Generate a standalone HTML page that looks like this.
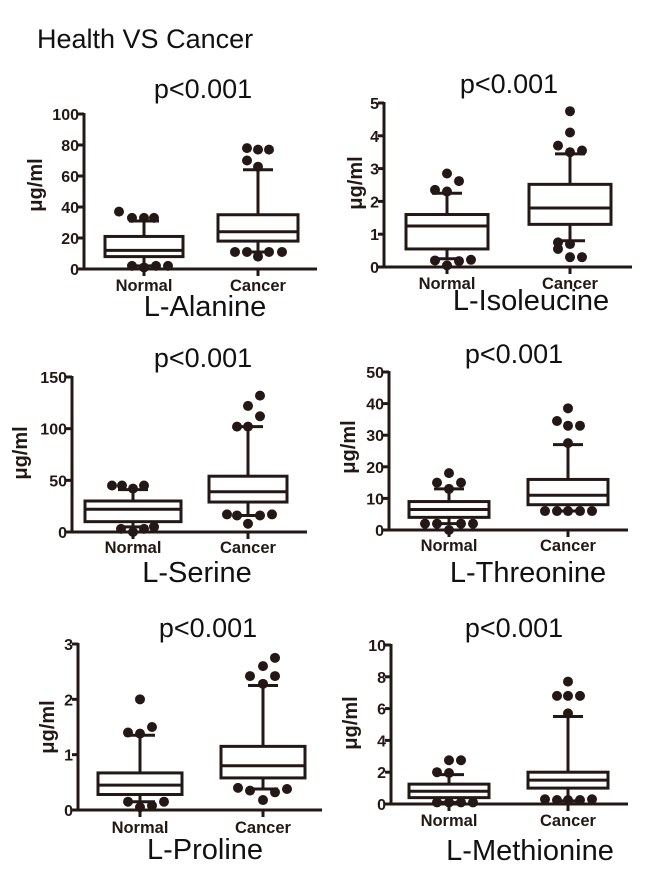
<!DOCTYPE html>
<html><head><meta charset="utf-8"><style>
body{margin:0;background:#fff;width:650px;height:879px;overflow:hidden}
svg{display:block;font-family:"Liberation Sans",Arial,sans-serif}
</style></head><body>
<svg id="fig" width="650" height="879" viewBox="0 0 650 879">
<text x="37" y="48" font-size="27" fill="#111">Health VS Cancer</text>
</svg>
<script>
// ---- data ----
const groups = ["Normal","Cancer"];
const panelNames = ["L-Alanine","L-Isoleucine","L-Serine","L-Threonine","L-Proline","L-Methionine"];
const yMax = [100,5,150,50,3,10];
const yStep = [20,1,50,10,1,2];
const pTitle = "p<0.001";
// box stats: [whiskerLow, q1, median, q3, whiskerHigh] for Normal, Cancer
const alanineStats = [[2,8,12,21,31],[11,18,24,35,64]];
const isoleucineStats = [[0.25,0.55,1.25,1.6,2.25],[0.8,1.3,1.8,2.52,3.45]];
const serineStats = [[5,10,22,30,41],[16,29,39,54,102]];
const threonineStats = [[2,4,6.5,9,13],[6,8,11,16,27]];
const prolineStats = [[0.15,0.28,0.45,0.67,1.35],[0.38,0.58,0.8,1.15,2.25]];
const methionineStats = [[0.1,0.4,0.8,1.25,1.85],[0.2,1.0,1.5,2.0,5.5]];
// outlier values per group
const alanineOut = [[37,33,33,33,2,1,2,2],[78,77,77,70,66,11,11,8,11,11]];
const isoleucineOut = [[2.85,2.62,2.35,2.3,0.2,0.05,0.18,0.22],[4.75,4.1,3.7,3.5,3.55,0.75,0.7,0.55,0.3,0.3]];
const serineOut = [[45,45,42,45,3,0,3,5],[132,122,112,102,102,17,16,8,16,17]];
const threonineOut = [[18,15,15,13,2,2,0,2,2],[38.5,34.5,33,33,27.5,6,6,6,6,6]];
const prolineOut = [[2.0,1.5,1.4,1.38,0.15,0.05,0.08,0.15],[2.75,2.6,2.42,2.42,2.28,0.4,0.35,0.18,0.32,0.38]];
const methionineOut = [[2.75,2.75,2.0,1.95,0.1,0.1,0.1,0.1],[7.7,6.8,6.8,6.8,5.7,0.3,0.25,0.25,0.25,0.3]];
const allStats=[alanineStats,isoleucineStats,serineStats,threonineStats,prolineStats,methionineStats];
const allOut=[alanineOut,isoleucineOut,serineOut,threonineOut,prolineOut,methionineOut];

// ---- layout (pixels) ----
const L=[
 {ax:84,y0:269,yT:114,xr:317,cx:[144,258],hw:[39,40],pt:[203,98],st:[205,316],gl:291,yl:[35,185],jit:[[-25,-12,0,10,-12,0,12,24],[-11,0,11,-11,0,-23,-11,0,11,24]]},
 {ax:384,y0:267,yT:103,xr:632,cx:[447,570],hw:[41,41],pt:[509,93],st:[531,310],gl:289,yl:[355,183],jit:[[0,12,-12,0,-12,0,12,24],[0,0,-12,0,12,-12,0,-12,0,12]]},
 {ax:72,y0:532,yT:377,xr:307,cx:[133,248],hw:[48,39],pt:[203,367],st:[197,582],gl:553,yl:[20,453],jit:[[-21,-11,0,11,-12,0,11,21],[12,0,12,-11,0,-21,-11,0,12,24]]},
 {ax:389,y0:530,yT:372,xr:628,cx:[449,568],hw:[40,40],pt:[514,363],st:[528,582],gl:551,yl:[348,447],jit:[[0,-12,12,0,-24,-12,0,12,24],[0,-11,0,12,0,-23,-11,0,12,24]]},
 {ax:78,y0:810,yT:644,xr:322,cx:[140,263],hw:[42,42],pt:[208,637],st:[205,859],gl:833,yl:[47,727],jit:[[0,12,-12,0,-12,0,12,24],[12,0,-13,12,0,-25,-13,0,12,24]]},
 {ax:391,y0:804,yT:645,xr:628,cx:[449,568],hw:[40,40],pt:[514,637],st:[530,860],gl:826,yl:[350,723],jit:[[0,12,-12,0,-12,0,12,24],[0,-11,0,12,0,-23,-11,0,12,24]]}
];
const C="#231815", NS="http://www.w3.org/2000/svg";
const svg=document.getElementById('fig');
function mk(tag,attrs,parent){const e=document.createElementNS(NS,tag);for(const k in attrs)e.setAttribute(k,attrs[k]);(parent||svg).appendChild(e);return e;}
function line(x1,y1,x2,y2,p){return mk('line',{x1,y1,x2,y2,stroke:C,'stroke-width':3,'stroke-linecap':'butt'},p);}

panelNames.forEach((name,pi)=>{
 const g=L[pi];
 const grp=mk('g',{});
 
 
 const ys=v=>g.y0-(v/yMax[pi])*(g.y0-g.yT);
 const ya=line(g.ax,g.yT-1,g.ax,g.y0+1.5,grp);
 
 
 const xa=line(g.ax-1.5,g.y0,g.xr,g.y0,grp);
 
 
 for(let v=0;v<=yMax[pi]+1e-9;v+=yStep[pi]){
  const y=ys(v);
  line(g.ax-6,y,g.ax,y,grp);
  const t=mk('text',{x:g.ax-5,y:y+6,'font-size':16,'font-weight':'bold','text-anchor':'end',fill:C},grp);
  t.textContent=String(Math.round(v*100)/100);
  
  
 }
 const yl=mk('text',{x:g.yl[0],y:g.yl[1],'font-size':20,'font-weight':'bold','text-anchor':'middle',fill:C,transform:`rotate(-90 ${g.yl[0]} ${g.yl[1]})`,dy:7},grp);
 yl.textContent="μg/ml";
 
 
 const pt=mk('text',{x:g.pt[0],y:g.pt[1],'font-size':27,'text-anchor':'middle',fill:'#111'},grp);
 pt.textContent=pTitle;
 
 
 const st=mk('text',{x:g.st[0],y:g.st[1],'font-size':29,'text-anchor':'middle',fill:'#111'},grp);
 st.textContent=name;
 
 
 groups.forEach((gn,gi)=>{
  const cx=g.cx[gi], hw=g.hw[gi], s=allStats[pi][gi];
  line(cx,g.y0,cx,g.y0+7,grp);
  const lab=mk('text',{x:cx,y:g.gl,'font-size':16.5,'font-weight':'bold','text-anchor':'middle',fill:C},grp);
  lab.textContent=gn;
  
  
  line(cx,ys(s[0]),cx,ys(s[1]),grp);
  line(cx,ys(s[3]),cx,ys(s[4]),grp);
  line(cx-15,ys(s[0]),cx+15,ys(s[0]),grp);
  line(cx-15,ys(s[4]),cx+15,ys(s[4]),grp);
  const box=mk('rect',{x:cx-hw,y:ys(s[3]),width:2*hw,height:ys(s[1])-ys(s[3]),fill:'#fff',stroke:C,'stroke-width':3},grp);
  
  
  line(cx-hw,ys(s[2]),cx+hw,ys(s[2]),grp);
  allOut[pi][gi].forEach((v,k)=>{
   const d=mk('circle',{cx:cx+(g.jit[gi][k]||0),cy:ys(v),r:5,fill:C},grp);
   
   
  });
 });
});
</script>
</body></html>
